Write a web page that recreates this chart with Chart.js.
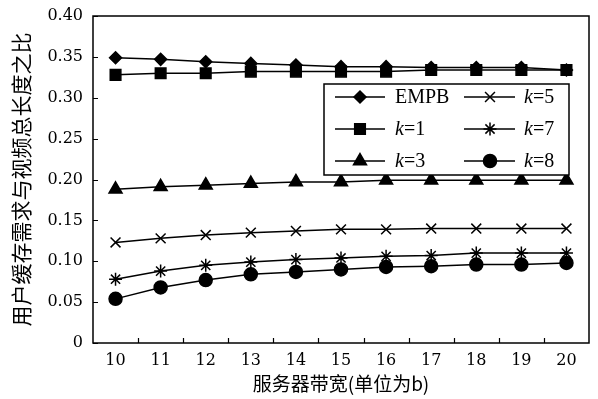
<!DOCTYPE html>
<html>
<head>
<meta charset="utf-8">
<script src="https://cdn.jsdelivr.net/npm/chart.js@4.4.1/dist/chart.umd.min.js"></script>
<style>
  html, body { margin: 0; padding: 0; background: #fff; }
  #wrap { width: 598px; height: 399px; }
</style>
</head>
<body>
<div id="wrap"><canvas id="myChart"></canvas></div>
<script>
// server bandwidth (x axis)
const bandwidth = ['10', '11', '12', '13', '14', '15', '16', '17', '18', '19', '20'];
const yTicks = [0, 0.05, 0.10, 0.15, 0.20, 0.25, 0.30, 0.35, 0.40];

const empb = [0.349, 0.347, 0.344, 0.342, 0.340, 0.338, 0.338, 0.337, 0.337, 0.337, 0.334];
const k1   = [0.328, 0.330, 0.330, 0.332, 0.332, 0.332, 0.332, 0.334, 0.334, 0.334, 0.334];
const k3   = [0.188, 0.191, 0.193, 0.195, 0.197, 0.197, 0.199, 0.199, 0.199, 0.199, 0.199];
const k5   = [0.123, 0.128, 0.132, 0.135, 0.137, 0.139, 0.139, 0.140, 0.140, 0.140, 0.140];
const k7   = [0.078, 0.088, 0.095, 0.099, 0.102, 0.104, 0.106, 0.107, 0.110, 0.110, 0.110];
const k8   = [0.054, 0.068, 0.077, 0.084, 0.087, 0.090, 0.093, 0.094, 0.096, 0.096, 0.098];

const seriesNames = ['EMPB', 'k=1', 'k=3', 'k=5', 'k=7', 'k=8'];
const seriesData = [empb, k1, k3, k5, k7, k8];
const markers = ['rectRot', 'rect', 'triangle', 'crossRot', 'star', 'circle'];
const markerSize = [6, 7.5, 7.5, 7, 6.5, 6.5];

let datasets = seriesData.map((d, i) => {
    return {
        label: seriesNames[i],
        data: d,
        borderColor: '#000',
        backgroundColor: '#000',
        borderWidth: 1.5,
        pointStyle: markers[i],
        pointRadius: markerSize[i],
        pointBorderWidth: 1.5,
        pointBackgroundColor: '#000',
        pointBorderColor: '#000',
        tension: 0
    };
});

// frame with inward tick marks
const framePlugin = {
    id: 'frame',
    afterDraw(chart) {
        const ctx = chart.ctx;
        const a = chart.chartArea;
        const ys = chart.scales.y;
        ctx.save();
        ctx.strokeStyle = '#000';
        ctx.lineWidth = 1.5;
        ctx.strokeRect(a.left, a.top, a.right - a.left, a.bottom - a.top);
        ctx.lineWidth = 1.2;
        ctx.beginPath();
        yTicks.forEach(v => {
            const y = Math.round(ys.getPixelForValue(v)) + 0.5;
            ctx.moveTo(a.left, y);
            ctx.lineTo(a.left + 5, y);
        });
        const step = (a.right - a.left) / bandwidth.length;
        for (let i = 1; i < bandwidth.length; i++) {
            const x = Math.round(a.left + i * step) + 0.5;
            ctx.moveTo(x, a.bottom);
            ctx.lineTo(x, a.bottom - 5);
        }
        ctx.stroke();
        ctx.restore();
    }
};

// two-column legend box inside the plot
const legendPlugin = {
    id: 'boxLegend',
    afterDraw(chart) {
        const ctx = chart.ctx;
        const bx = 324, by = 84, bw = 245, bh = 91;
        ctx.save();
        ctx.fillStyle = '#fff';
        ctx.fillRect(bx, by, bw, bh);
        ctx.strokeStyle = '#000';
        ctx.lineWidth = 1.5;
        ctx.strokeRect(bx, by, bw, bh);
        const rows = [97, 129, 161];
        const cols = [{l0: 335, l1: 385, m: 360, t: 395}, {l0: 464, l1: 515, m: 490, t: 524}];
        seriesNames.forEach((name, i) => {
            const c = cols[Math.floor(i / 3)];
            const y = rows[i % 3];
            ctx.strokeStyle = '#000';
            ctx.lineWidth = 1.5;
            ctx.beginPath();
            ctx.moveTo(c.l0, y);
            ctx.lineTo(c.l1, y);
            ctx.stroke();
            ctx.fillStyle = '#000';
            Chart.helpers.drawPoint(ctx, {pointStyle: markers[i], radius: markerSize[i], rotation: 0, borderWidth: 1.5}, c.m, y);
            ctx.textBaseline = 'middle';
            ctx.textAlign = 'left';
            if (name === 'EMPB') {
                ctx.font = '20px "Liberation Serif"';
                ctx.fillText(name, c.t, y + 1);
            } else {
                ctx.font = 'italic 20px "Liberation Serif"';
                ctx.fillText('k', c.t, y + 1);
                const kw = ctx.measureText('k').width;
                ctx.font = '20px "Liberation Serif"';
                ctx.fillText(name.slice(1), c.t + kw, y + 1);
            }
        });
        ctx.restore();
    }
};

const myChart = new Chart(document.getElementById('myChart'), {
    type: 'line',
    data: {
        labels: bandwidth,
        datasets: datasets
    },
    options: {
        responsive: true,
        maintainAspectRatio: false,
        animation: false,
        layout: { padding: { left: 0, right: 6, top: 16, bottom: 0 } },
        plugins: {
            legend: { display: false },
            tooltip: { enabled: false }
        },
        scales: {
            x: {
                offset: true,
                grid: { display: false },
                border: { display: false },
                ticks: {
                    color: '#000',
                    font: { family: '"DejaVu Serif"', size: 16 },
                    padding: 0,
                    maxRotation: 0
                },
                title: {
                    display: true,
                    text: '服务器带宽(单位为b)',
                    color: '#000',
                    font: { family: '"Noto Sans CJK SC"', size: 19 },
                    padding: { top: 0, bottom: 4 }
                },
                afterFit(scale) { scale.height = 56; }
            },
            y: {
                min: 0,
                max: 0.4,
                grid: { display: false },
                border: { display: false },
                afterBuildTicks(scale) {
                    scale.ticks = yTicks.map(v => ({ value: v }));
                },
                ticks: {
                    color: '#000',
                    font: { family: '"DejaVu Serif"', size: 16 },
                    padding: 2,
                    callback: v => v === 0 ? '0' : v.toFixed(2)
                },
                title: {
                    display: true,
                    text: '用户缓存需求与视频总长度之比',
                    color: '#000',
                    font: { family: '"Noto Sans CJK SC"', size: 21 },
                    padding: { top: 8, bottom: 0 }
                },
                afterFit(scale) { scale.width = 93; }
            }
        }
    },
    plugins: [framePlugin, legendPlugin]
});
</script>
</body>
</html>
